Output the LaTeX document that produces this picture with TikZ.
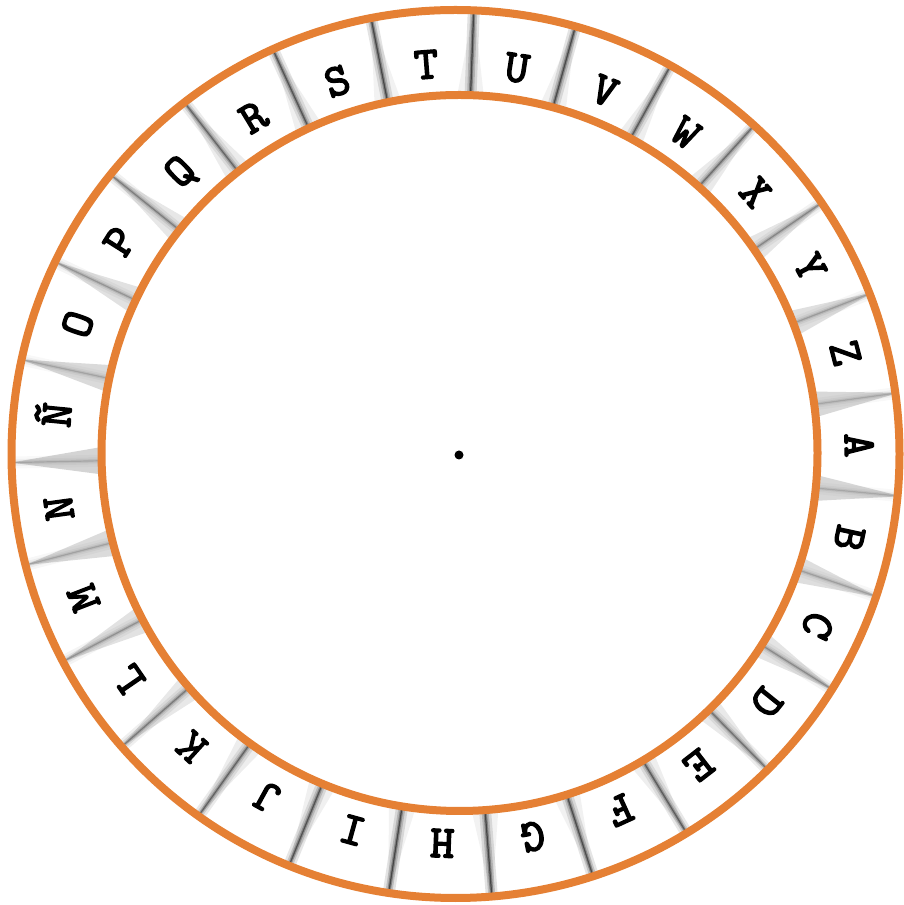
\documentclass[tikz,border=0pt]{standalone}
\usepackage{fontspec}
\usetikzlibrary{calc}
\newfontfamily\lettfont{lmmono10-regular.otf}[AutoFakeBold=3]
\definecolor{ringorange}{RGB}{229,128,52}
\tikzset{
  ring/.style={draw=ringorange, line width=8pt},
  letter/.style={font=\lettfont\bfseries\fontsize{46}{46}\selectfont, inner sep=0pt, text height=28pt, text depth=0pt, anchor=center},
  wedgefill/.style={fill=black},
}
\begin{document}
\begin{tikzpicture}[x=1pt,y=1pt]
\useasboundingbox (0,0) rectangle (904,905);
\coordinate (c) at (457,451.5);
\coordinate (co) at (455.5,451);
\coordinate (ci) at (459.5,452);
% dividers
\foreach \k in {0,...,26}{
  \pgfmathsetmacro{\a}{94.5-(\k+0.5)*360/27}
  \pgfmathsetmacro{\s}{abs(sin(\a))}
  \pgfmathsetmacro{\wop}{0.05+0.12*(1-\s)}
  \pgfmathsetmacro{\bop}{0.06+0.22*\s*\s}
  \pgfmathsetmacro{\lop}{0.12+0.35*\s*\s}
  \fill[wedgefill, opacity=\wop] ($(c)+(\a:446)$) -- ($(c)+(\a-2.2:356)$) -- ($(c)+(\a+2.2:356)$) -- cycle;
  \draw[black, line width=12pt, opacity=\bop*0.4] ($(c)+(\a:356)$) -- ($(c)+(\a:446)$);
  \draw[black, line width=7pt, opacity=\bop*0.6] ($(c)+(\a:356)$) -- ($(c)+(\a:446)$);
  \draw[black, line width=3.5pt, opacity=\bop] ($(c)+(\a:356)$) -- ($(c)+(\a:446)$);
  \draw[black, line width=1.2pt, opacity=\lop] ($(c)+(\a:356)$) -- ($(c)+(\a:446)$);
}
% clean inside and outside
\fill[white] (ci) circle (358);
\fill[white, even odd rule] (-10,-10) rectangle (914,915) (co) circle (444);
% rings
\draw[ring] (co) circle (444);
\draw[ring] (ci) circle (358);
% letters
\foreach \L [count=\k from 0] in {T,U,V,W,X,Y,Z,A,B,C,D,E,F,G,H,I,J,K,L,M,N,Ñ,O,P,Q,R,S}{
  \pgfmathsetmacro{\a}{94.5-\k*360/27}
  \pgfmathsetmacro{\r}{396+6*cos(2*\a)}
  \node[letter, rotate=\a-90] (l\k) at ($(c)+(\a:\r)$) {\L};
}
% centre dot
\fill[black] (459,450) circle (4.5);
\end{tikzpicture}
\end{document}
